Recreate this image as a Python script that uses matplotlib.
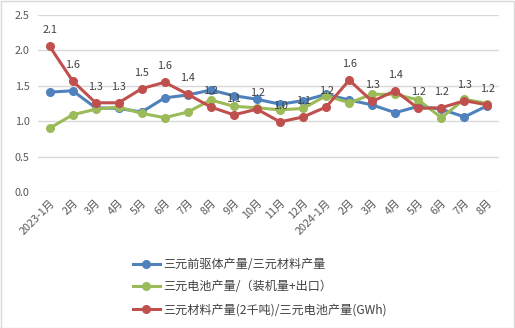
import numpy as np
import matplotlib.pyplot as plt
from matplotlib.patches import Rectangle

plt.rcParams['font.family'] = ['Noto Sans CJK SC', 'DejaVu Sans']

months = ['2023-1月', '2月', '3月', '4月', '5月', '6月', '7月', '8月', '9月', '10月',
          '11月', '12月', '2024-1月', '2月', '3月', '4月', '5月', '6月', '7月', '8月']

precursor_ratio = [1.41, 1.43, 1.19, 1.18, 1.13, 1.33, 1.37, 1.44, 1.36, 1.31,
                   1.24, 1.29, 1.38, 1.30, 1.23, 1.12, 1.21, 1.17, 1.06, 1.22]
battery_ratio = [0.90, 1.09, 1.17, 1.20, 1.11, 1.05, 1.13, 1.30, 1.21, 1.19,
                 1.16, 1.18, 1.36, 1.26, 1.38, 1.38, 1.30, 1.05, 1.31, 1.25]
material_ratio = [2.06, 1.57, 1.26, 1.26, 1.46, 1.55, 1.38, 1.20, 1.09, 1.17,
                  0.99, 1.06, 1.20, 1.58, 1.28, 1.43, 1.18, 1.19, 1.29, 1.23]

series_names = ['三元前驱体产量/三元材料产量',
                '三元电池产量/（装机量+出口）',
                '三元材料产量(2千吨)/三元电池产量(GWh)']
series_colors = ['#4F81BD', '#9BBB59', '#C0504D']

W, H = 515, 328
fig = plt.figure(figsize=(W / 100, H / 100), dpi=100)
fig.patches.append(Rectangle((0.5 / W, 0.5 / H), 1 - 1.5 / W, 1 - 1.5 / H,
                             transform=fig.transFigure, fill=False,
                             edgecolor='#D9D9D9', linewidth=1))

ax = fig.add_axes([38 / W, (H - 192) / H, 461 / W, 177 / H])
x = np.arange(len(months))

for vals, name, c in zip([precursor_ratio, battery_ratio, material_ratio],
                         series_names, series_colors):
    ax.plot(x, vals, color=c, linewidth=2.2, marker='o', markersize=5.5,
            label=name, solid_joinstyle='round')

# value labels above the red series
for xi, v in zip(x, material_ratio):
    ax.annotate(f'{v:.1f}', (xi, v), xytext=(0, 11.5), textcoords='offset points',
                ha='center', va='center', fontsize=7.8, color='#404040')

ax.set_xlim(-0.5, len(months) - 0.5)
ax.set_ylim(0, 2.5)
ax.set_yticks(np.arange(0, 2.51, 0.5))
ax.set_yticklabels([f'{t:.1f}' for t in np.arange(0, 2.51, 0.5)])
ax.set_xticks(x)
ax.set_xticklabels(months, rotation=45, ha='right', rotation_mode='anchor')
ax.tick_params(axis='both', length=0, labelsize=7.8, labelcolor='#595959')
ax.tick_params(axis='x', pad=4)
ax.tick_params(axis='y', pad=6)
ax.grid(axis='y', color='#D9D9D9', linewidth=1)
ax.set_axisbelow(True)
for sp in ax.spines.values():
    sp.set_visible(False)

fig.legend(loc='center', bbox_to_anchor=(260 / W, 1 - 287 / H), ncol=1,
           frameon=False, fontsize=8.7, labelcolor='#404040', handlelength=2.2,
           handletextpad=0.3, labelspacing=0.8)

fig.savefig('out.png', dpi=100)
